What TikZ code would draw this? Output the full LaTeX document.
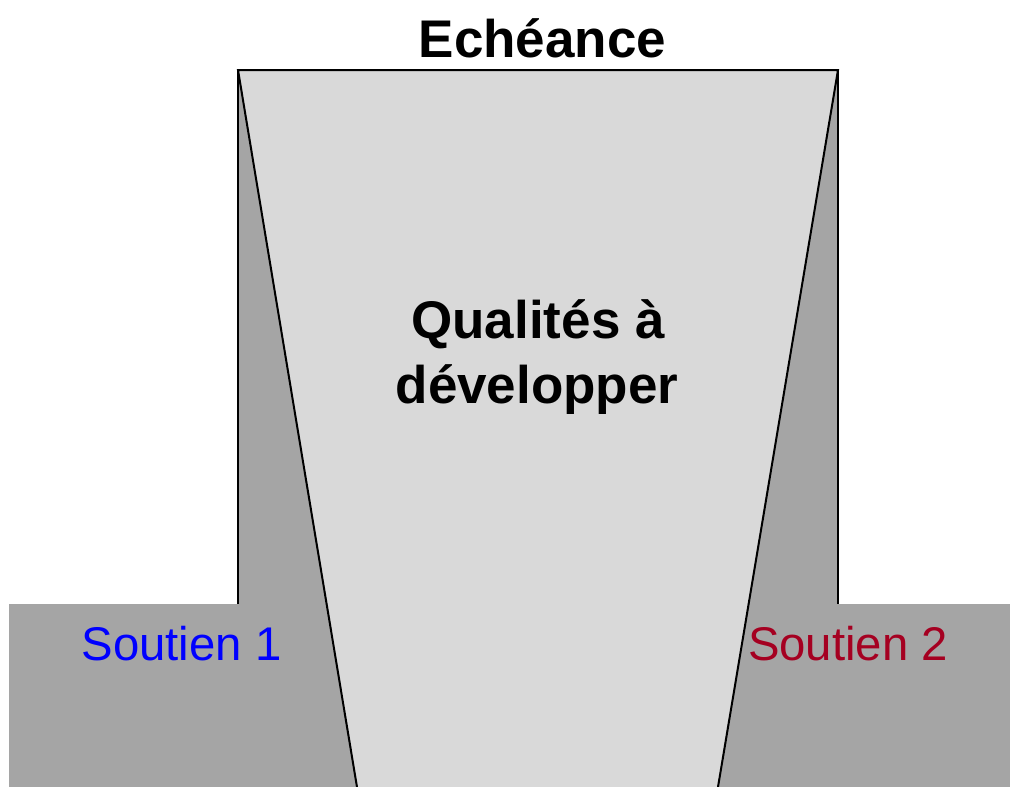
\documentclass[tikz,border=0pt]{standalone}
\usepackage{fontspec}
\setmainfont{Liberation Sans}
\definecolor{darkfill}{HTML}{A5A5A5}
\definecolor{lightfill}{HTML}{D9D9D9}
\definecolor{soutienred}{HTML}{A50021}
\begin{document}
\begin{tikzpicture}[x=1pt,y=-1pt,
  edge/.style={draw=black,line width=2pt,line join=miter},
  bigtext/.style={font=\fontsize{53}{60}\selectfont\bfseries,inner sep=0pt,anchor=base},
  sidetext/.style={font=\fontsize{47.3}{50}\selectfont,inner sep=0pt,anchor=base}]
\useasboundingbox (0,0) rectangle (1010,787);
% base block
\fill[darkfill] (9,604) rectangle (1010,787);
% tall block
\fill[darkfill] (238,70) rectangle (838,605);
\draw[edge] (238,604) -- (238,70) -- (838,70) -- (838,604);
% trapezoid
\coordinate (tl) at (238,70);
\coordinate (tr) at (838,70);
\coordinate (br) at (718,787);
\coordinate (bl) at (357,787);
\fill[lightfill] (tl) -- (tr) -- (br) -- (bl) -- cycle;
\draw[edge] (bl) -- (tl) -- (tr) -- (br);
% texts
\node[bigtext] (ech) at (542.5,57) {Echéance};
\node[bigtext] (qual1) at (538,338) {Qualités à};
\node[bigtext] (qual2) at (537,403) {développer};
\node[sidetext,text=blue] (s1) at (181.5,660) {Soutien 1};
\node[sidetext,text=soutienred] (s2) at (848,660) {Soutien 2};
\end{tikzpicture}
\end{document}
